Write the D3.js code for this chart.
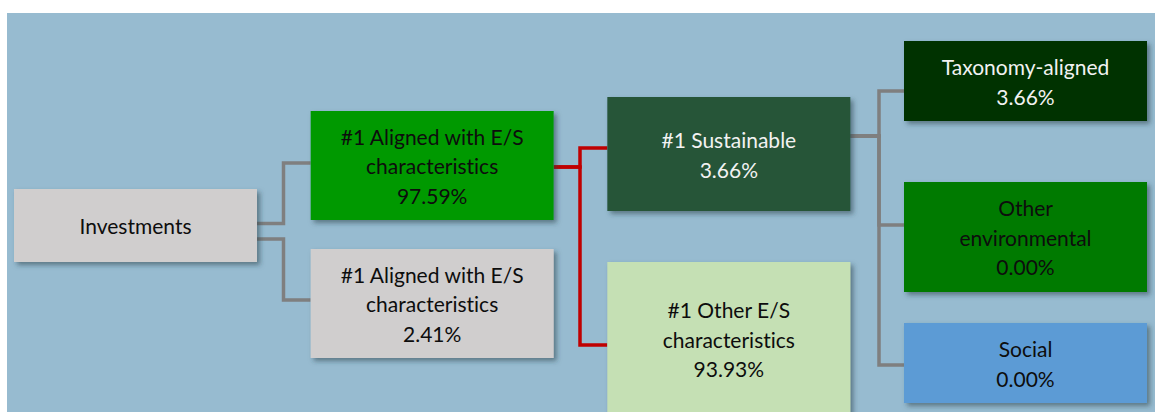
<!DOCTYPE html>
<html>
<head>
<meta charset="utf-8">
<script src="https://cdn.jsdelivr.net/npm/d3@7"></script>
<style>
  html, body { margin: 0; padding: 0; background: #fff; }
  svg { display: block; }
  text { font-family: Lato, "Open Sans", sans-serif; font-variant-ligatures: none; }
</style>
</head>
<body>
<svg width="1155" height="412"></svg>
<script>
// node data
var ids = ["inv", "aligned", "notAligned", "sust", "otherES", "tax", "otherEnv", "social"];
var labels = [
  ["Investments"],
  ["#1 Aligned with E/S", "characteristics"],
  ["#1 Aligned with E/S", "characteristics"],
  ["#1 Sustainable"],
  ["#1 Other E/S", "characteristics"],
  ["Taxonomy-aligned"],
  ["Other", "environmental"],
  ["Social"]
];
var values = [null, 97.59, 2.41, 3.66, 93.93, 3.66, 0.00, 0.00];
var parents = [null, "inv", "inv", "aligned", "aligned", "sust", "sust", "sust"];

// layout (column / top / height in px) kept apart from the data
var level = [0, 1, 1, 2, 2, 3, 3, 3];
var tops = [189, 111, 249, 97, 262, 41, 182, 323];
var heights = [73, 109, 109, 114, 154, 80, 110, 80];
var fills = ["#d0cece", "#009900", "#d0cece", "#255439", "#c5e0b4", "#003300", "#007a00", "#5b9bd5"];
var textFill = ["#0d0d0d", "#0d0d0d", "#0d0d0d", "#f2f2f2", "#0d0d0d", "#f2f2f2", "#0d0d0d", "#0d0d0d"];
var linkColor = { inv: "#7f7f7f", aligned: "#c00000", sust: "#7f7f7f" };

var svg = d3.select("svg"),
  width = +svg.attr("width"),
  height = +svg.attr("height");

var boxW = 243;
var x = d3.scaleLinear().domain([0, 3]).range([14, 904]);

var nodes = ids.map(function(id, i) {
  return {
    id: id, label: labels[i], value: values[i], parent: parents[i],
    x: x(level[i]), y: tops[i], w: boxW, h: heights[i],
    fill: fills[i], color: textFill[i]
  };
});
var byId = {};
nodes.forEach(function(d) { byId[d.id] = d; });

var defs = svg.append("defs");
var f = defs.append("filter").attr("id", "shadow")
  .attr("x", "-10%").attr("y", "-10%").attr("width", "130%").attr("height", "140%");
f.append("feDropShadow")
  .attr("dx", 3).attr("dy", 3).attr("stdDeviation", 2.5)
  .attr("flood-color", "#2c3e4a").attr("flood-opacity", 0.55);

svg.append("rect")
  .attr("x", 7).attr("y", 13)
  .attr("width", width - 7).attr("height", height - 13)
  .style("fill", "#97bbd0");

// connectors: elbow from the parent's right edge to each child's left edge
var outY = { inv: [223.5, 239], aligned: [167, 167], sust: [136, 136] };
var elbowX = { inv: 283.5, aligned: 580, sust: 879 };
var childIdx = {};

var links = nodes.filter(function(d) { return d.parent; }).map(function(d) {
  var p = byId[d.parent];
  var k = childIdx[p.id] = (childIdx[p.id] || 0);
  childIdx[p.id]++;
  return { source: p, target: d, k: k };
});

var linkY = { notAligned: 300, aligned: 163, sust: 148, otherES: 345, tax: 91, otherEnv: 225, social: 365 };

svg.append("g").attr("class", "links")
  .selectAll("path")
  .data(links)
  .enter().append("path")
  .attr("d", function(d) {
    var p = d.source, c = d.target;
    var sy = outY[p.id][Math.min(d.k, 1)];
    var ex = elbowX[p.id];
    var ty = linkY[c.id];
    return "M" + (p.x + p.w) + "," + sy + "H" + ex + "V" + ty + "H" + c.x;
  })
  .style("fill", "none")
  .style("stroke", function(d) { return linkColor[d.source.id]; })
  .style("stroke-width", 3.5);

var node = svg.append("g").attr("class", "nodes")
  .selectAll("g")
  .data(nodes)
  .enter().append("g")
  .attr("transform", function(d) { return "translate(" + d.x + "," + d.y + ")"; });

node.append("rect")
  .attr("width", function(d) { return d.w; })
  .attr("height", function(d) { return d.h; })
  .attr("filter", "url(#shadow)")
  .style("fill", function(d) { return d.fill; });

var lh = 29.5;
node.each(function(d) {
  var lines = d.label.slice();
  if (d.value != null) lines.push(d.value.toFixed(2) + "%");
  var y0 = d.h / 2 - (lines.length - 1) * lh / 2;
  d3.select(this).selectAll("text")
    .data(lines)
    .enter().append("text")
    .attr("x", d.w / 2)
    .attr("y", function(t, i) { return y0 + i * lh; })
    .attr("dy", "0.42em")
    .attr("text-anchor", "middle")
    .style("font-size", "21px")
    .style("fill", d.color)
    .text(function(t) { return t; });
});
</script>
</body>
</html>
